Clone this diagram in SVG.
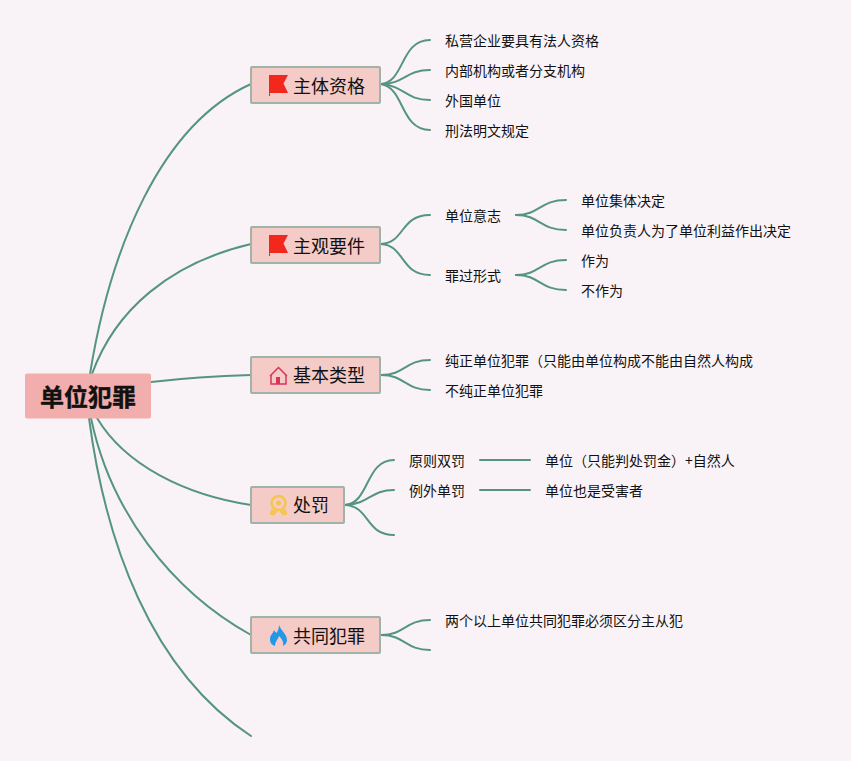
<svg xmlns="http://www.w3.org/2000/svg" width="851" height="761" viewBox="0 0 851 761">
<style>
.c{fill:none;stroke:#55957f;stroke-width:2;stroke-linecap:round}
.n{fill:#f4cbc6;stroke:#9fb3a7;stroke-width:2}
.t{font-family:"Noto Sans CJK SC","Liberation Sans",sans-serif;fill:#111}
.m{font-size:18px}
.s{font-size:14px}
</style>
<rect width="851" height="761" fill="#f9f3f7"/>
<g id="connectors">
<path class="c" d="M90 374C110 250 160 125 251 84"/>
<path class="c" d="M92 374C115 310 170 263 251 244"/>
<path class="c" d="M151 382C185 378 215 376 251 375"/>
<path class="c" d="M97 418C125 465 185 495 251 505"/>
<path class="c" d="M91 418C110 510 170 590 251 635"/>
<path class="c" d="M89 418C105 540 150 670 251 736"/>
<path class="c" d="M381 84C405 82 400 40 430 40"/>
<path class="c" d="M381 84C405 84 405 70 430 70"/>
<path class="c" d="M381 84C405 86 405 100 430 100"/>
<path class="c" d="M381 84C405 88 400 130 430 130"/>
<path class="c" d="M381 244C405 243 400 215 430 215"/>
<path class="c" d="M381 244C405 245 400 275 430 275"/>
<path class="c" d="M516 215C540 215 540 200 566 200"/>
<path class="c" d="M516 215C540 215 540 230 566 230"/>
<path class="c" d="M516 275C540 275 540 260 566 260"/>
<path class="c" d="M516 275C540 275 540 290 566 290"/>
<path class="c" d="M381 375C405 375 405 360 430 360"/>
<path class="c" d="M381 375C405 375 405 390 430 390"/>
<path class="c" d="M345 505C370 503 365 460 394 460"/>
<path class="c" d="M345 505C370 504 370 490 394 490"/>
<path class="c" d="M345 505C370 506 365 535 394 535"/>
<path class="c" d="M480 460H530"/>
<path class="c" d="M480 490H530"/>
<path class="c" d="M381 635C405 635 405 620 430 620"/>
<path class="c" d="M381 635C405 635 405 650 430 650"/>
</g>
<g id="root"><rect x="25" y="373.500" width="126" height="45" rx="2" fill="#f2aeac"/><text class="t" x="88" y="406" font-size="24" font-weight="700" text-anchor="middle" stroke="#111" stroke-width=".4">单位犯罪</text></g>
<g id="node-zhuti"><rect class="n" x="251" y="67" width="129" height="36" rx="1"/><path d="M269 75H288L283.500 83.500L288 93H270V96H269Z" fill="#f2281c"/><text class="t m" x="293" y="93">主体资格</text></g>
<g id="node-zhuguan"><rect class="n" x="251" y="227" width="129" height="36" rx="1"/><path d="M269 235H288L283.500 243.500L288 253H270V256H269Z" fill="#f2281c"/><text class="t m" x="293" y="253">主观要件</text></g>
<g id="node-jiben"><rect class="n" x="251" y="357" width="129" height="36" rx="1"/><path d="M271 375V384H286V375" fill="none" stroke="#d9345c" stroke-width="1.500"/><path d="M270 376L278.500 367.500L287 376" fill="none" stroke="#d9345c" stroke-width="1.500"/><rect x="276" y="377" width="4" height="7" fill="#d9345c"/><text class="t m" x="293" y="382">基本类型</text></g>
<g id="node-chufa"><rect class="n" x="251" y="487" width="93" height="36" rx="1"/><circle cx="278.500" cy="503" r="7" fill="none" stroke="#f6c54e" stroke-width="2.500"/><circle cx="278.500" cy="503" r="2.500" fill="#f6c54e"/><path d="M272 509L270 514L274 515L277 511M285 509L287 514L283 515L280 511" fill="#f6c54e" stroke="#f6c54e"/><text class="t m" x="293" y="512">处罚</text></g>
<g id="node-gongtong"><rect class="n" x="251" y="617" width="129" height="36" rx="1"/><path d="M279 625C281 631 287 634 287 640C287 643 285 645 283 646C284 642 282 639 279 636C278 640 275 641 275 646C272 645 270 643 270 639C270 635 273 634 274 630C275 632 276 632 276.500 633C278 631 279 628 279 625Z" fill="#2398e6"/><text class="t m" x="293" y="643">共同犯罪</text></g>
<g id="l1"><text class="t s" x="445" y="46">私营企业要具有法人资格</text></g>
<g id="l2"><text class="t s" x="445" y="76">内部机构或者分支机构</text></g>
<g id="l3"><text class="t s" x="445" y="106">外国单位</text></g>
<g id="l4"><text class="t s" x="445" y="136">刑法明文规定</text></g>
<g id="l5"><text class="t s" x="445" y="221">单位意志</text></g>
<g id="l6"><text class="t s" x="445" y="281">罪过形式</text></g>
<g id="l7"><text class="t s" x="581" y="206">单位集体决定</text></g>
<g id="l8"><text class="t s" x="581" y="236">单位负责人为了单位利益作出决定</text></g>
<g id="l9"><text class="t s" x="581" y="266">作为</text></g>
<g id="l10"><text class="t s" x="581" y="296">不作为</text></g>
<g id="l11"><text class="t s" x="445" y="366">纯正单位犯罪（只能由单位构成不能由自然人构成</text></g>
<g id="l12"><text class="t s" x="445" y="396">不纯正单位犯罪</text></g>
<g id="l13"><text class="t s" x="409" y="466">原则双罚</text></g>
<g id="l14"><text class="t s" x="409" y="496">例外单罚</text></g>
<g id="l15"><text class="t s" x="545" y="466">单位（只能判处罚金）+自然人</text></g>
<g id="l16"><text class="t s" x="545" y="496">单位也是受害者</text></g>
<g id="l17"><text class="t s" x="445" y="626">两个以上单位共同犯罪必须区分主从犯</text></g>
</svg>
